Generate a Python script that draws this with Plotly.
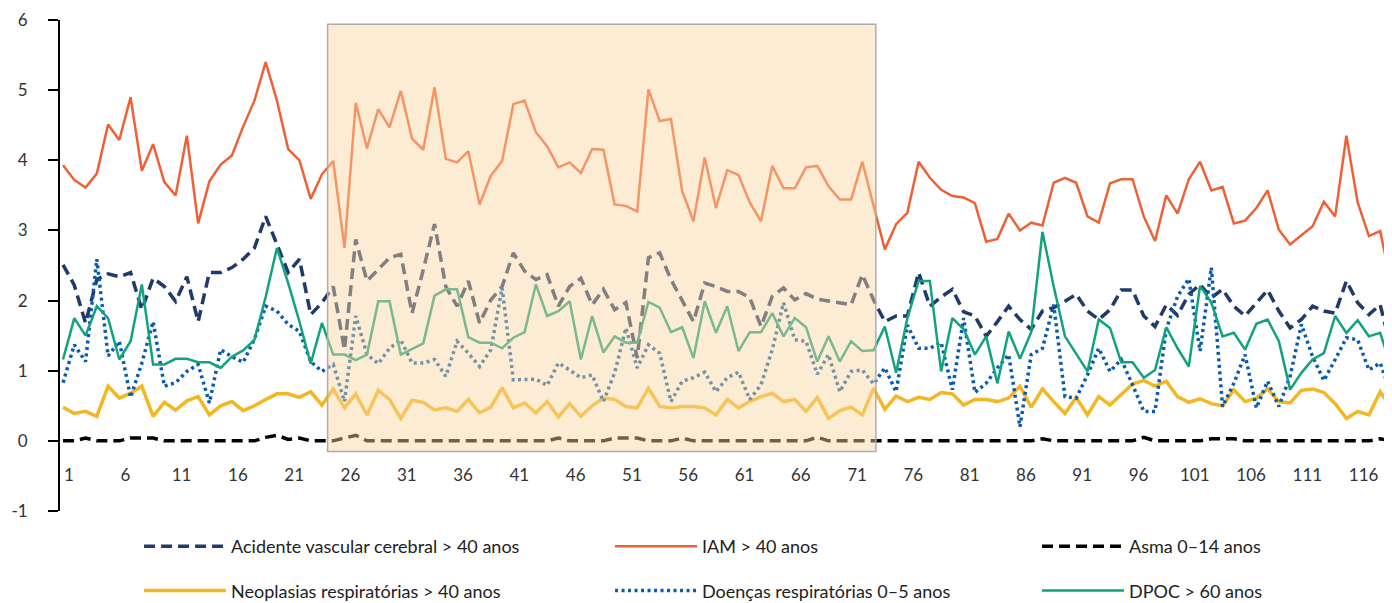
import plotly.graph_objects as go

x = list(range(1, 120))
tick_vals = list(range(1, 120, 5))
tick_text = [str(v) for v in tick_vals]
y_tick_vals = [-1, 0, 1, 2, 3, 4, 5, 6]
y_tick_text = ["-1", "0", "1", "2", "3", "4", "5", "6"]

avc = [2.51, 2.22, 1.68, 2.30, 2.38, 2.34, 2.40, 1.87, 2.32, 2.20, 1.99, 2.34, 1.70, 2.40, 2.40, 2.47, 2.59, 2.75, 3.20, 2.80,
       2.40, 2.59, 1.80, 1.97, 2.20, 1.30, 2.87, 2.28, 2.44, 2.61, 2.66, 1.82, 2.44, 3.09, 2.20, 1.92, 2.28, 1.68, 2.01, 2.20,
       2.68, 2.42, 2.30, 2.37, 1.92, 2.20, 2.32, 1.94, 2.16, 1.87, 1.97, 1.18, 2.61, 2.68, 2.30, 2.01, 1.70, 2.25, 2.20, 2.13,
       2.13, 2.04, 1.63, 2.06, 2.18, 2.01, 2.10, 2.02, 1.99, 1.97, 1.94, 2.37, 2.01, 1.70, 1.78, 1.78, 2.40, 1.92, 2.05, 2.16,
       1.84, 1.78, 1.49, 1.70, 1.92, 1.73, 1.59, 1.85, 1.90, 1.99, 2.09, 1.85, 1.73, 1.87, 2.15, 2.15, 1.78, 1.63, 1.94, 1.79,
       2.09, 2.23, 2.04, 2.16, 1.92, 1.78, 1.97, 2.15, 1.85, 1.61, 1.73, 1.92, 1.85, 1.82, 2.28, 1.97, 1.80, 1.94, 1.30]

iam = [3.93, 3.72, 3.61, 3.81, 4.51, 4.29, 4.90, 3.85, 4.23, 3.69, 3.50, 4.35, 3.10, 3.70, 3.94, 4.07, 4.48, 4.85, 5.40, 4.85,
       4.16, 4.00, 3.45, 3.80, 3.99, 2.75, 4.82, 4.17, 4.73, 4.47, 4.99, 4.31, 4.15, 5.04, 4.02, 3.97, 4.13, 3.37, 3.78, 3.99,
       4.80, 4.85, 4.40, 4.20, 3.90, 3.97, 3.82, 4.16, 4.15, 3.37, 3.35, 3.27, 5.01, 4.56, 4.59, 3.56, 3.13, 4.04, 3.32, 3.86,
       3.79, 3.40, 3.13, 3.92, 3.60, 3.60, 3.90, 3.92, 3.63, 3.44, 3.44, 3.98, 3.35, 2.73, 3.09, 3.25, 3.98, 3.75, 3.58, 3.49,
       3.47, 3.39, 2.84, 2.88, 3.24, 3.00, 3.11, 3.07, 3.68, 3.75, 3.68, 3.20, 3.11, 3.67, 3.73, 3.73, 3.20, 2.85, 3.50, 3.24,
       3.73, 3.98, 3.57, 3.62, 3.10, 3.14, 3.32, 3.57, 3.01, 2.80, 2.93, 3.06, 3.41, 3.20, 4.35, 3.40, 2.92, 2.99, 2.23]

asma = [0.00, 0.00, 0.04, 0.00, 0.00, 0.00, 0.04, 0.04, 0.04, 0.00, 0.00, 0.00, 0.00, 0.00, 0.00, 0.00, 0.00, 0.00, 0.05, 0.08,
        0.02, 0.04, 0.00, 0.00, 0.00, 0.04, 0.08, 0.00, 0.00, 0.00, 0.00, 0.00, 0.00, 0.00, 0.00, 0.00, 0.00, 0.00, 0.00, 0.00,
        0.00, 0.00, 0.00, 0.00, 0.04, 0.00, 0.00, 0.00, 0.00, 0.04, 0.04, 0.04, 0.00, 0.00, 0.00, 0.04, 0.00, 0.00, 0.00, 0.00,
        0.00, 0.00, 0.00, 0.00, 0.00, 0.00, 0.00, 0.05, 0.00, 0.00, 0.00, 0.00, 0.00, 0.00, 0.00, 0.00, 0.00, 0.00, 0.00, 0.00,
        0.00, 0.00, 0.00, 0.00, 0.00, 0.00, 0.00, 0.03, 0.00, 0.00, 0.00, 0.00, 0.00, 0.00, 0.00, 0.00, 0.05, 0.00, 0.00, 0.00,
        0.00, 0.00, 0.03, 0.03, 0.03, 0.00, 0.00, 0.00, 0.00, 0.00, 0.00, 0.00, 0.00, 0.00, 0.00, 0.00, 0.00, 0.03, 0.00]

neo = [0.48, 0.39, 0.42, 0.35, 0.78, 0.61, 0.68, 0.78, 0.35, 0.55, 0.44, 0.57, 0.63, 0.37, 0.50, 0.56, 0.43, 0.50, 0.59, 0.67,
       0.67, 0.62, 0.70, 0.51, 0.74, 0.47, 0.67, 0.37, 0.72, 0.59, 0.32, 0.58, 0.55, 0.44, 0.47, 0.42, 0.59, 0.40, 0.48, 0.76,
       0.47, 0.54, 0.40, 0.56, 0.34, 0.53, 0.35, 0.50, 0.61, 0.59, 0.49, 0.47, 0.75, 0.49, 0.47, 0.49, 0.49, 0.47, 0.37, 0.59,
       0.47, 0.56, 0.63, 0.68, 0.56, 0.59, 0.42, 0.62, 0.32, 0.43, 0.48, 0.37, 0.75, 0.45, 0.64, 0.56, 0.62, 0.59, 0.69, 0.67,
       0.51, 0.59, 0.59, 0.56, 0.61, 0.78, 0.48, 0.74, 0.56, 0.39, 0.62, 0.37, 0.63, 0.51, 0.66, 0.81, 0.86, 0.78, 0.85, 0.63,
       0.55, 0.60, 0.53, 0.50, 0.73, 0.56, 0.61, 0.74, 0.56, 0.54, 0.72, 0.74, 0.69, 0.53, 0.32, 0.42, 0.37, 0.70, 0.47]

resp = [0.83, 1.37, 1.13, 2.59, 1.21, 1.42, 0.62, 1.11, 1.70, 0.78, 0.83, 0.99, 1.09, 0.54, 1.30, 1.20, 1.12, 1.45, 1.92, 1.85,
        1.66, 1.56, 1.13, 0.99, 1.09, 0.56, 1.78, 1.23, 1.10, 1.32, 1.44, 1.11, 1.11, 1.16, 0.92, 1.42, 1.25, 1.06, 1.30, 2.18,
        0.87, 0.88, 0.88, 0.79, 1.11, 1.01, 0.90, 0.94, 0.56, 0.97, 1.61, 1.04, 1.37, 1.25, 0.56, 0.85, 0.90, 0.98, 0.70, 0.90,
        0.98, 0.59, 0.80, 1.30, 1.97, 1.44, 1.42, 0.95, 1.23, 0.70, 0.99, 1.01, 0.81, 1.04, 0.70, 1.65, 1.32, 1.32, 1.40, 0.73,
        1.75, 0.69, 0.82, 1.04, 1.23, 0.20, 1.23, 1.32, 1.94, 0.63, 0.61, 0.94, 1.32, 0.99, 1.16, 0.80, 0.42, 0.42, 1.59, 2.06,
        2.31, 1.28, 2.47, 0.49, 0.82, 1.23, 0.47, 0.85, 0.49, 0.92, 1.66, 1.20, 0.86, 1.16, 1.47, 1.44, 1.01, 1.11, 0.66]

dpoc = [1.16, 1.75, 1.50, 1.92, 1.75, 1.16, 1.42, 2.23, 1.09, 1.09, 1.17, 1.17, 1.12, 1.12, 1.04, 1.20, 1.29, 1.44, 2.05, 2.75,
        2.25, 1.70, 1.10, 1.68, 1.23, 1.23, 1.15, 1.23, 1.99, 1.99, 1.23, 1.31, 1.39, 2.07, 2.16, 2.16, 1.48, 1.40, 1.40, 1.32,
        1.47, 1.55, 2.23, 1.78, 1.85, 1.99, 1.16, 1.78, 1.26, 1.49, 1.40, 1.40, 1.98, 1.90, 1.55, 1.62, 1.18, 1.99, 1.54, 1.92,
        1.28, 1.55, 1.55, 1.82, 1.49, 1.75, 1.62, 1.13, 1.49, 1.13, 1.42, 1.28, 1.29, 1.63, 0.97, 1.75, 2.28, 2.28, 0.99, 1.75,
        1.59, 1.23, 1.49, 0.82, 1.56, 1.17, 1.55, 2.98, 2.20, 1.49, 1.24, 0.99, 1.73, 1.61, 1.12, 1.12, 0.90, 1.01, 1.62, 1.32,
        1.06, 2.21, 1.97, 1.49, 1.54, 1.30, 1.67, 1.73, 1.42, 0.73, 0.97, 1.16, 1.25, 1.78, 1.54, 1.72, 1.49, 1.54, 1.04]

highlight_start = 24.5
highlight_end = 73.2

FONT = "Lato, 'Open Sans', sans-serif"

series = [
    ("Acidente vascular cerebral > 40 anos", avc, "#1F3A6B", 3.5, "11px,6px", "legend"),
    ("Neoplasias respiratórias > 40 anos", neo, "#F2B722", 3.5, "solid", "legend"),
    ("IAM > 40 anos", iam, "#EE6136", 2.5, "solid", "legend2"),
    ("Doenças respiratórias 0–5 anos", resp, "#0A5BAE", 3.5, "3px,3.5px", "legend2"),
    ("Asma 0–14 anos", asma, "#000000", 3.5, "11px,6px", "legend3"),
    ("DPOC > 60 anos", dpoc, "#11A27F", 2.5, "solid", "legend3"),
]

fig = go.Figure()
for i, (name, ys, color, w, dash, lg) in enumerate(series):
    fig.add_trace(go.Scatter(
        x=x, y=ys, mode="lines", name=name,
        line=dict(color=color, width=w, dash=dash),
        legend=lg, legendgroup=name,
    ))

fig.add_shape(type="rect", xref="x", yref="y",
              x0=highlight_start, x1=highlight_end, y0=-0.15, y1=5.94,
              fillcolor="rgba(250,212,160,0.45)",
              line=dict(color="#ADADAD", width=1.5), layer="above")

leg_common = dict(orientation="v", yanchor="top", xanchor="left",
                  xref="container", yref="container",
                  font=dict(family=FONT, size=18, color="#222222"),
                  bgcolor="rgba(0,0,0,0)", itemwidth=82, tracegroupgap=18,
                  traceorder="grouped")

fig.update_layout(
    width=1384, height=595,
    margin=dict(l=52, r=0, t=12, b=92, autoexpand=False),
    paper_bgcolor="white", plot_bgcolor="white",
    font=dict(family=FONT, size=17, color="#333333"),
    legend=dict(x=0.0947, y=0.1261, **leg_common),
    legend2=dict(x=0.4350, y=0.1261, **leg_common),
    legend3=dict(x=0.7435, y=0.1261, **leg_common),
    xaxis=dict(range=[0.73, 119.05], tickvals=tick_vals, ticktext=tick_text,
               showgrid=False, zeroline=False, showline=False, ticks="",
               anchor="free", position=1/7, ticklabelstandoff=22,
               ticklabelshift=6, automargin=False,
               tickfont=dict(family=FONT, size=17, color="#333333")),
    yaxis=dict(range=[-1, 6], tickvals=y_tick_vals, ticktext=y_tick_text,
               showgrid=False, zeroline=False, showline=True, linecolor="#000000",
               linewidth=2, ticks="outside", ticklen=10, tickwidth=2, tickcolor="#000000",
               ticklabelstandoff=17, automargin=False,
               tickfont=dict(family=FONT, size=17, color="#333333")),
    showlegend=True,
)

fig.write_html("out.html")
